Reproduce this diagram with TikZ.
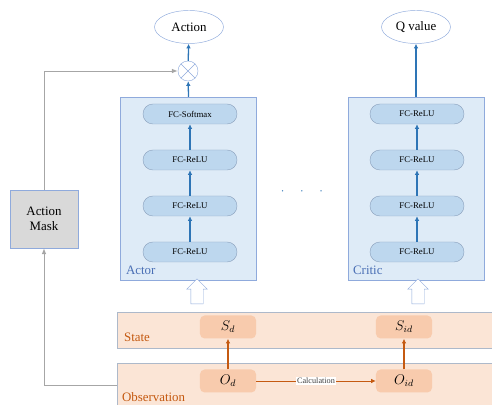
\documentclass[tikz,border=0pt]{standalone}
\usepackage{fontspec}
\setmainfont{Liberation Serif}
\usetikzlibrary{shapes.arrows,shapes.geometric,arrows.meta}

\definecolor{boxfill}{HTML}{DEEBF7}
\definecolor{boxline}{HTML}{8FAADC}
\definecolor{layerfill}{HTML}{BDD7EE}
\definecolor{layerline}{HTML}{8EA4C0}
\definecolor{netblue}{HTML}{2E75B6}
\definecolor{labelblue}{HTML}{4A6FB5}
\definecolor{bandfill}{HTML}{FBE5D6}
\definecolor{bandline}{HTML}{ADB9CA}
\definecolor{obsfill}{HTML}{F8CBAD}
\definecolor{obsorange}{HTML}{C55A11}
\definecolor{maskgray}{HTML}{A6A6A6}

\begin{document}
\begin{tikzpicture}[x=0.03cm,y=-0.03cm,
    every node/.style={font=\fontsize{11}{13}\selectfont},
    layer/.style={draw=layerline, fill=layerfill, rounded corners=8.5pt, minimum width=2.82cm, minimum height=0.6cm, inner sep=0pt, font=\fontsize{7.5}{9}\selectfont},
    netbox/.style={draw=boxline, fill=boxfill, minimum width=4.08cm, minimum height=5.49cm, inner sep=0pt},
    outnode/.style={draw=boxline, ellipse, minimum width=2.07cm, minimum height=0.99cm, inner sep=0pt},
    band/.style={draw=bandline, fill=bandfill, minimum width=11.49cm, inner sep=0pt},
    obsbox/.style={fill=obsfill, rounded corners=4pt, minimum width=1.68cm, minimum height=0.69cm, inner sep=0pt, font=\fontsize{12}{14}\selectfont},
    hollow/.style={single arrow, draw=boxline, fill=white, rotate=90, minimum height=0.75cm, inner xsep=0pt, inner ysep=0.18cm, single arrow head extend=0.12cm},
    netarrow/.style={draw=netblue, line width=1.1pt, -{Latex[length=4pt,width=4pt]}},
    obsarrow/.style={draw=obsorange, line width=1.1pt, -{Latex[length=4pt,width=4pt]}},
    maskarrow/.style={draw=maskgray, line width=0.8pt, -{Latex[length=5pt,width=4pt]}}]

    \useasboundingbox (0,0) rectangle (492,405);

    % state and observation bands
    \node (state)[band, minimum height=1.08cm] at (308.5,330) {};
    \node (obs)[band, minimum height=1.32cm]   at (308.5,385) {};
    \node[anchor=west, text=obsorange] at (120,337) {State};
    \node[anchor=west, text=obsorange] at (118,397) {Observation};

    \node (sd)[obsbox]  at (228,327) {$S_{d}$};
    \node (sid)[obsbox] at (404,327) {$S_{id}$};
    \node (od)[obsbox]  at (228,381) {$O_{d}$};
    \node (oid)[obsbox] at (404,381) {$O_{id}$};

    \draw[obsarrow] (od) -- (sd);
    \draw[obsarrow] (oid) -- (sid);
    \draw[obsarrow, line width=0.7pt] (od) -- node[fill=white, inner sep=1pt, text=black!75, font=\fontsize{7}{8}\selectfont]{Calculation} (oid);

    % networks
    \node (actor)[netbox]  at (188.5,188.5) {};
    \node (critic)[netbox] at (416,188.5) {};
    \node[anchor=west, text=labelblue] at (122,270) {Actor};
    \node[anchor=west, text=labelblue] at (349,270) {Critic};

    \node (a1)[layer] at (190,252) {FC-ReLU};
    \node (a2)[layer] at (190,206) {FC-ReLU};
    \node (a3)[layer] at (190,160) {FC-ReLU};
    \node (a4)[layer] at (190,114) {FC-Softmax};

    \node (c1)[layer] at (417,252) {FC-ReLU};
    \node (c2)[layer] at (417,206) {FC-ReLU};
    \node (c3)[layer] at (417,160) {FC-ReLU};
    \node (c4)[layer] at (417,114) {FC-ReLU};

    \node (dots)[text=netblue] at (302,192) {$\cdot\quad\cdot\quad\cdot$};

    \node (ha)[hollow] at (197,294.5) {};
    \node (hc)[hollow] at (418,294.5) {};

    % outputs
    \node (mul)[draw=boxline, circle, minimum size=0.6cm, inner sep=0pt] at (188,71) {};
    \draw[boxline] (mul.45) -- (mul.225) (mul.135) -- (mul.-45);
    \node (action)[outnode] at (189,27) {Action};
    \node (qvalue)[outnode] at (416,27) {Q value};

    \node (mask)[draw=boxline, fill=black!15, minimum width=2.04cm, minimum height=1.74cm, align=center] at (44,219) {Action\\Mask};

    \foreach \from/\to in {a1/a2, a2/a3, a3/a4, c1/c2, c2/c3, c3/c4}
      \draw[netarrow] (\from) -- (\to);
    \draw[netarrow] (actor.north) -- (mul);
    \draw[netarrow] (mul) -- (action);
    \draw[netarrow] (critic.north) -- (qvalue);

    \draw[maskarrow] (obs.west) -| (mask.south);
    \draw[maskarrow] (mask.north) |- (mul.west);
  \end{tikzpicture}
\end{document}
